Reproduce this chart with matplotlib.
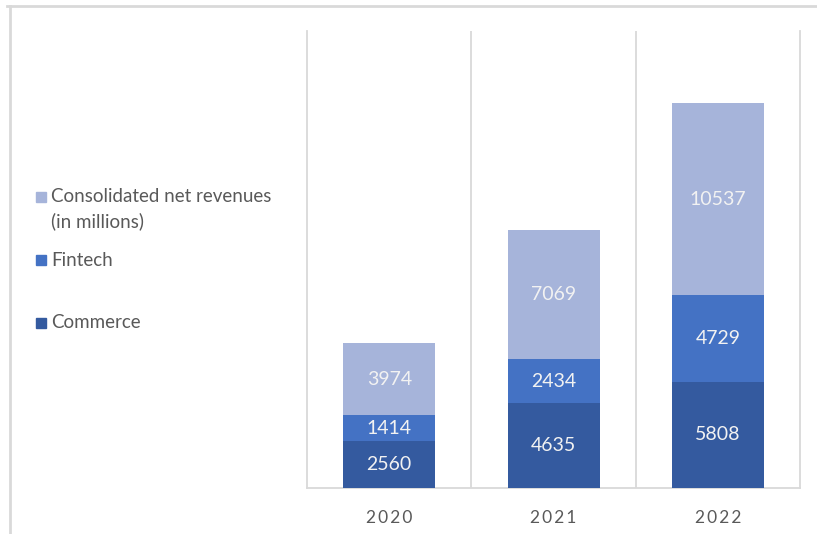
import numpy as np
import matplotlib
matplotlib.use("Agg")
import matplotlib.pyplot as plt
from matplotlib.patches import Rectangle
from matplotlib.lines import Line2D

# ---------------------------------------------------------------
# DATA
# ---------------------------------------------------------------
years = ["2020", "2021", "2022"]
commerce = [2560, 4635, 5808]
fintech = [1414, 2434, 4729]
consolidated = [3974, 7069, 10537]

series_names = ["Consolidated net revenues\n(in millions)", "Fintech", "Commerce"]
c_dark = "#345A9F"
c_mid = "#4472C4"
c_light = "#A6B4DA"
grid_c = "#D9D9D9"
text_c = "#595959"

plt.rcParams['font.family'] = ['Lato', 'DejaVu Sans']

fig = plt.figure(figsize=(8.17, 5.34), dpi=100)
ax = fig.add_axes([0.3758, 0.0861, 0.6034, 0.8558])

x = np.arange(len(years))
w = 0.56
bottom = np.zeros(len(years))
for vals, col in [(commerce, c_dark), (fintech, c_mid), (consolidated, c_light)]:
    bars = ax.bar(x, vals, w, bottom=bottom, color=col, edgecolor="none", zorder=3)
    ax.bar_label(bars, labels=[str(v) for v in vals], label_type="center",
                 color="#F2F2F2", fontsize=14)
    bottom += np.array(vals)

ax.set_xlim(-0.5, 2.5)
ax.set_ylim(0, 25000)
ax.set_yticks([])
ax.set_xticks(x)
ax.set_xticklabels(["\u2009".join(y) for y in years], color=text_c, fontsize=12.5)
ax.tick_params(axis="x", length=0, pad=16)
ax.set_xticks([0.5, 1.5], minor=True)
ax.tick_params(axis="x", which="minor", length=0)
ax.grid(axis="x", which="minor", color=grid_c, lw=1.3, zorder=0)
ax.spines["top"].set_visible(False)
for s in ["left", "right", "bottom"]:
    ax.spines[s].set_color(grid_c)
    ax.spines[s].set_linewidth(1.3)

# legend drawn by hand on the left side
W, H = 817.0, 534.0
leg_y = [197, 260, 323]
for name, col, yy in zip(series_names, [c_light, c_mid, c_dark], leg_y):
    fig.patches.append(Rectangle((36 / W, 1 - (yy + 5) / H), 10 / W, 10 / H,
                                 transform=fig.transFigure, color=col))
    for k, ln in enumerate(name.split("\n")):
        fig.text(51 / W, 1 - (yy + k * 24) / H, ln, color=text_c, fontsize=13.5,
                 va="center", ha="left")

# outer frame
fig.add_artist(Line2D([7 / W, 1.0], [1 - 6 / H, 1 - 6 / H], color=grid_c, lw=2))
fig.add_artist(Line2D([10 / W, 10 / W], [0.0, 1 - 6 / H], color=grid_c, lw=2))

fig.savefig("out.png", dpi=100)
